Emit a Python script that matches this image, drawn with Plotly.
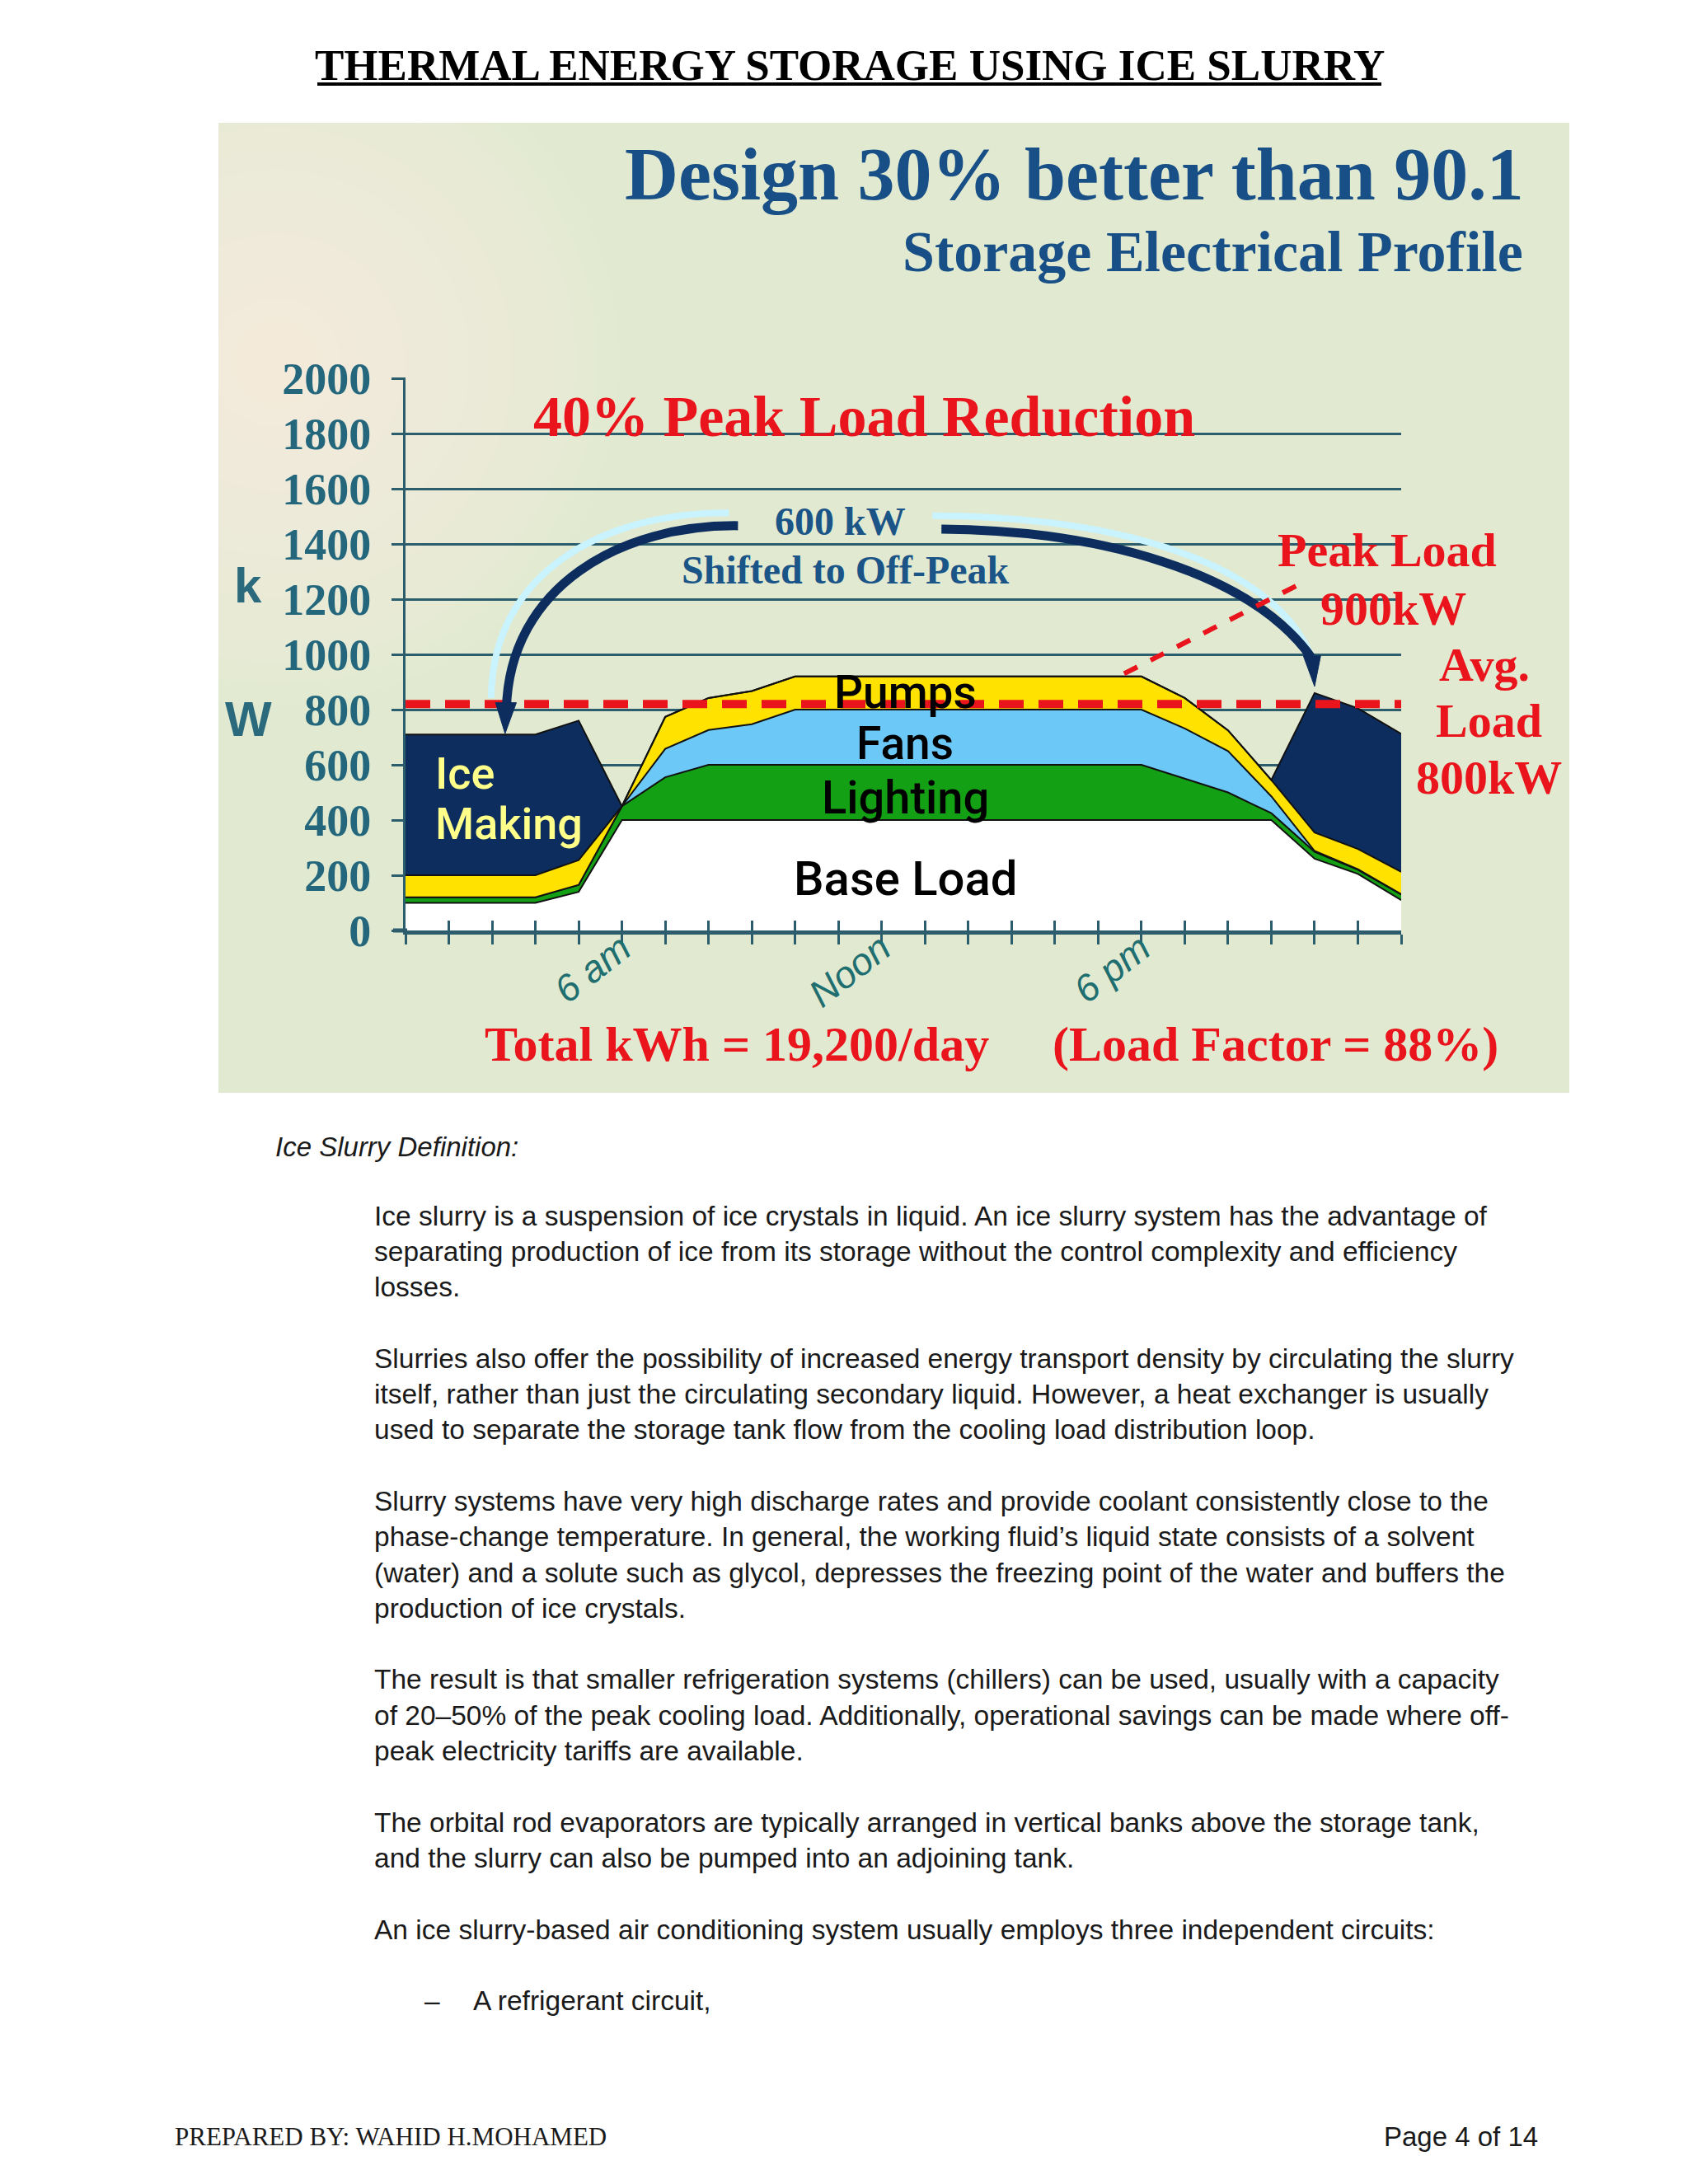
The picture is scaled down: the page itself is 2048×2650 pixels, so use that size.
import plotly.graph_objects as go

# ---------------- data ----------------
hours = list(range(1, 25))
hour_labels = ["", "", "", "", "", "6 am", "", "", "", "", "", "Noon",
               "", "", "", "", "", "6 pm", "", "", "", "", "", ""]
base_load = [100, 100, 100, 100, 140, 400, 400, 400, 400, 400, 400, 400,
             400, 400, 400, 400, 400, 400, 400, 400, 400, 260, 205, 110]
lighting = [20, 20, 20, 20, 25, 50, 155, 200, 200, 200, 200, 200,
            200, 200, 200, 200, 200, 200, 150, 100, 25, 25, 15, 20]
fans = [0, 0, 0, 0, 0, 0, 103, 126, 147, 200, 200, 200,
        200, 200, 200, 200, 200, 200, 182, 150, 61, 3, 2, 2]
pumps = [80, 80, 80, 80, 90, 0, 116, 116, 120, 120, 120, 120,
         120, 120, 120, 120, 120, 120, 110, 75, 59, 67, 73, 80]
ice_making = [510, 510, 510, 510, 505, 0, 0, 0, 0, 0, 0, 0,
              0, 0, 0, 0, 0, 0, 0, 0, 0, 505, 510, 500]
avg_load = 820
y_ticks = [0, 200, 400, 600, 800, 1000, 1200, 1400, 1600, 1800, 2000]

paragraphs = [
    ["Ice slurry is a suspension of ice crystals in liquid. An ice slurry system has the advantage of",
     "separating production of ice from its storage without the control complexity and efficiency",
     "losses."],
    ["Slurries also offer the possibility of increased energy transport density by circulating the slurry",
     "itself, rather than just the circulating secondary liquid. However, a heat exchanger is usually",
     "used to separate the storage tank flow from the cooling load distribution loop."],
    ["Slurry systems have very high discharge rates and provide coolant consistently close to the",
     "phase-change temperature. In general, the working fluid\u2019s liquid state consists of a solvent",
     "(water) and a solute such as glycol, depresses the freezing point of the water and buffers the",
     "production of ice crystals."],
    ["The result is that smaller refrigeration systems (chillers) can be used, usually with a capacity",
     "of 20\u201350% of the peak cooling load. Additionally, operational savings can be made where off-",
     "peak electricity tariffs are available."],
    ["The orbital rod evaporators are typically arranged in vertical banks above the storage tank,",
     "and the slurry can also be pumped into an adjoining tank."],
    ["An ice slurry-based air conditioning system usually employs three independent circuits:"],
]
bullet_text = "A refrigerant circuit,"

# ---------------- layout helpers ----------------
FIG_W, FIG_H = 2048, 2650
OFF = 8  # page body margin of the html page
L, R, T, B = 492, 1700, 458, 1129


def px(x):
    return (x - L) / (R - L)


def py(y):
    return (B - y) / (B - T)


AXC = "#2c5d6c"
RED = "#ea141c"
NAVY = "#0c2d5e"
TBLUE = "#174f86"

fig = go.Figure()

layers = [
    ("Base Load", base_load, "#ffffff"),
    ("Lighting", lighting, "#14a014"),
    ("Fans", fans, "#6cc8f6"),
    ("Pumps", pumps, "#ffe200"),
    ("Ice Making", ice_making, NAVY),
]
for name, vals, col in layers:
    fig.add_trace(go.Scatter(x=hours, y=vals, name=name, stackgroup="one",
                             mode="lines", line=dict(color="#111111", width=2),
                             fillcolor=col, showlegend=False, hoverinfo="skip"))

fig.add_trace(go.Scatter(x=[hours[0], hours[-1]], y=[avg_load, avg_load], mode="lines",
                         line=dict(color=RED, width=10, dash="30px,18px"),
                         showlegend=False, hoverinfo="skip"))

# invisible trace for the overlaid tick axis
fig.add_trace(go.Scatter(x=[hours[0], hours[-1]], y=[0, 0], xaxis="x2", mode="lines",
                         line=dict(width=0), opacity=0, showlegend=False, hoverinfo="skip"))

shapes = []
# slide background
shapes.append(dict(type="rect", xref="paper", yref="paper", x0=px(265), x1=px(1904),
                   y0=py(1326), y1=py(149), fillcolor="#e1ead1", line=dict(width=0), layer="below"))
# soft glow in upper left
cx, cy = 335, 440
for k in range(1, 17):
    r = 26 * k
    shapes.append(dict(type="circle", xref="paper", yref="paper",
                       x0=px(cx - r), x1=px(cx + r), y0=py(cy + r), y1=py(cy - r),
                       fillcolor="rgba(255,247,230,0.08)", line=dict(width=0), layer="below"))
# white page around the slide (hides the glow overflow)
shapes.append(dict(type="rect", xref="paper", yref="paper", x0=px(-20), x1=px(265),
                   y0=py(1326), y1=py(0), fillcolor="white", line=dict(width=0), layer="below"))
shapes.append(dict(type="rect", xref="paper", yref="paper", x0=px(-20), x1=px(1904),
                   y0=py(149), y1=py(0), fillcolor="white", line=dict(width=0), layer="below"))
# header underline
shapes.append(dict(type="line", xref="paper", yref="paper", x0=px(385), x1=px(1676),
                   y0=py(102), y1=py(102), line=dict(color="black", width=4)))
# x axis line extension left of the y axis
shapes.append(dict(type="line", xref="paper", yref="paper", x0=px(477), x1=px(494),
                   y0=py(1129), y1=py(1129), line=dict(color=AXC, width=5)))
# arrows
shapes.append(dict(type="path", xref="x", yref="y",
                   path="M 8.47,1513 C 5.6,1515 3.0,1300 2.98,842",
                   line=dict(color="#c8f3ff", width=8)))
shapes.append(dict(type="path", xref="x", yref="y",
                   path="M 13.17,1502 C 17.5,1500 21.0,1330 21.9,1000",
                   line=dict(color="#c8f3ff", width=8)))
shapes.append(dict(type="path", xref="x", yref="y",
                   path="M 8.68,1466 C 6.0,1470 3.4,1250 3.33,800",
                   line=dict(color=NAVY, width=11)))
shapes.append(dict(type="path", xref="x", yref="y",
                   path="M 13.38,1454 C 17.0,1450 20.5,1300 21.92,990",
                   line=dict(color=NAVY, width=11)))
shapes.append(dict(type="path", xref="x", yref="y",
                   path="M 3.08,825 L 3.56,825 L 3.30,713 Z",
                   fillcolor=NAVY, line=dict(color=NAVY, width=1)))
shapes.append(dict(type="path", xref="x", yref="y",
                   path="M 21.74,995 L 22.14,995 L 22.0,884 Z",
                   fillcolor=NAVY, line=dict(color=NAVY, width=1)))
# peak pointer
shapes.append(dict(type="line", xref="x", yref="y", x0=17.6, y0=930, x1=21.6, y1=1250,
                   line=dict(color=RED, width=6, dash="dash")))
fig.update_layout(shapes=shapes)


def text(x, y, s, size, color, family="Liberation Serif", weight="bold",
         style="normal", xanchor="center"):
    fig.add_annotation(x=px(x), y=py(y), xref="paper", yref="paper", text=s,
                       showarrow=False, xanchor=xanchor, yanchor="middle",
                       borderpad=0,
                       font=dict(size=size, color=color, family=family,
                                 weight=weight, style=style))


SERIF = "Liberation Serif"
SANS = "Liberation Sans"
ROUND = "Roboto"

text(1031, 79, "THERMAL ENERGY STORAGE USING ICE SLURRY", 53, "black", SERIF, "bold")
text(1850, 211, "Design 30% better than 90.1", 90, TBLUE, SERIF, "bold", xanchor="right")
text(1849, 306, "Storage Electrical Profile", 70, TBLUE, SERIF, "bold", xanchor="right")
text(1048, 505, "40% Peak Load Reduction", 70, RED, SERIF, "bold")
text(1019, 632, "600 kW", 48, "#1b5588", SERIF, "bold")
text(1026, 691, "Shifted to Off-Peak", 48, "#1b5588", SERIF, "bold")
text(1683, 667, "Peak Load", 58, RED, SERIF, "bold")
text(1690, 738, "900kW", 58, RED, SERIF, "bold")
text(1801, 806, "Avg.", 58, RED, SERIF, "bold")
text(1806, 874, "Load", 58, RED, SERIF, "bold")
text(1806, 943, "800kW", 58, RED, SERIF, "bold")
text(894, 1267, "Total kWh = 19,200/day", 60, RED, SERIF, "bold")
text(1547, 1267, "(Load Factor = 88%)", 60, RED, SERIF, "bold")

text(1098, 840, "Pumps", 55, "black", ROUND, 500)
text(1098, 902, "Fans", 55, "black", ROUND, 500)
text(1098, 968, "Lighting", 56, "black", ROUND, 500)
text(1098, 1066, "Base Load", 58, "black", ROUND, 500)
text(527, 938, "Ice", 54, "#ffff8a", ROUND, 500, xanchor="left")
text(527, 999, "Making", 54, "#ffff8a", ROUND, 500, xanchor="left")
text(301, 710, "k", 60, "#2a6a7c", SANS, "bold")
text(301, 872, "W", 60, "#2a6a7c", SANS, "bold")

text(333, 1391, "Ice Slurry Definition:", 33, "#1a1a1a", SANS, "normal", "italic", xanchor="left")
line_no = 0
for para in paragraphs:
    for ln in para:
        text(453, 1475 + line_no * 43.3, ln, 33.5, "#1a1a1a", SANS, "normal", xanchor="left")
        line_no += 1
    line_no += 1
text(514, 1475 + line_no * 43.3, "\u2013", 33.5, "#1a1a1a", SANS, "normal", xanchor="left")
text(573, 1475 + line_no * 43.3, bullet_text, 33.5, "#1a1a1a", SANS, "normal", xanchor="left")

text(211, 2592, "PREPARED BY: WAHID H.MOHAMED", 31, "#1a1a1a", SERIF, "normal", xanchor="left")
text(1867, 2592, "Page 4 of 14", 33, "#1a1a1a", SANS, "normal", xanchor="right")

ml, mt = L - OFF, T - OFF
fig.update_layout(
    width=FIG_W, height=FIG_H, autosize=False,
    margin=dict(l=ml, r=FIG_W - ml - (R - L), t=mt, b=FIG_H - mt - (B - T), pad=0),
    paper_bgcolor="white", plot_bgcolor="rgba(0,0,0,0)",
    template="none", showlegend=False,
    xaxis=dict(range=[hours[0], hours[-1]], tickmode="array", tickvals=hours,
               ticktext=hour_labels, ticks="outside", ticklen=12, tickwidth=3,
               tickcolor=AXC, tickangle=-38, showgrid=False, zeroline=False,
               showline=True, linecolor=AXC, linewidth=5, ticklabelstandoff=-40,
               tickfont=dict(family=SANS, size=46, color="#1f6e70", style="italic")),
    xaxis2=dict(range=[hours[0], hours[-1]], overlaying="x", anchor="y", side="bottom",
                tickmode="array", tickvals=hours, ticks="inside", ticklen=12, tickwidth=3,
                tickcolor=AXC, showticklabels=False, showgrid=False, zeroline=False,
                showline=False),
    yaxis=dict(range=[0, 2003], tickmode="array", tickvals=y_ticks,
               ticktext=[str(v) for v in y_ticks], ticks="outside", ticklen=14,
               tickwidth=3, tickcolor=AXC, showgrid=True, gridcolor=AXC, gridwidth=3,
               zeroline=False, showline=True, linecolor=AXC, linewidth=3,
               ticklabelstandoff=14,
               tickfont=dict(family=SERIF, size=54, color="#24677c", weight="bold")),
)

fig.write_html("out.html")
